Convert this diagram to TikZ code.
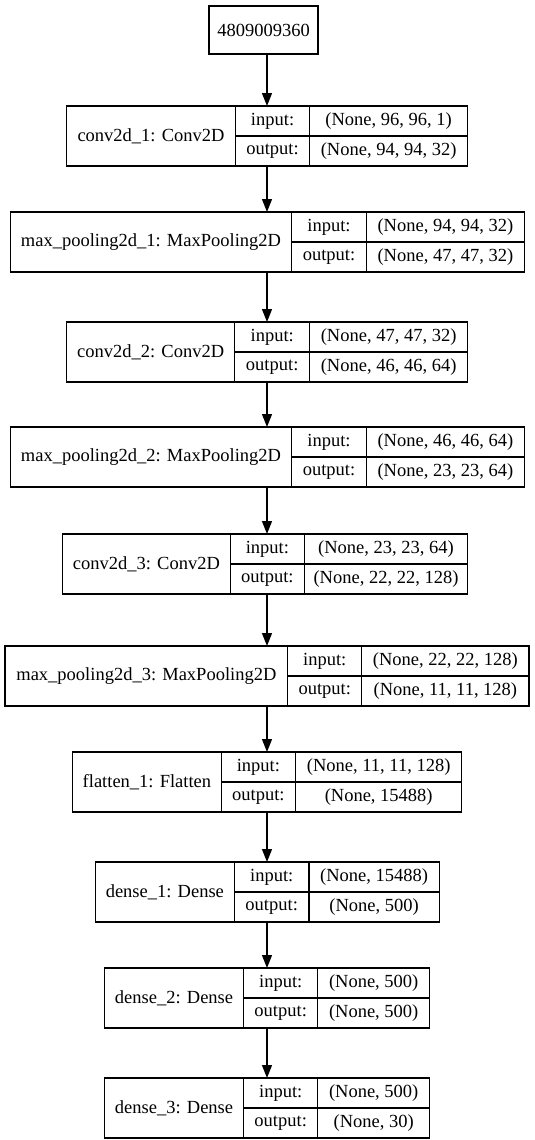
\documentclass[tikz,border=0pt]{standalone}
\usepackage{fontspec}
\setmainfont{Liberation Serif}
\usetikzlibrary{arrows.meta}
\tikzset{
  cell/.style={draw=black, line width=1.3pt, inner sep=0pt, outer sep=0pt, anchor=north west, font=\fontsize{18.5}{22}\selectfont},
  arr/.style={line width=1.3pt, -{Triangle[length=13pt,width=10pt]}},
}
\newcommand\lay[9]{%
  \pgfmathsetmacro\wA{#4-#3}\pgfmathsetmacro\wB{#5-#4}\pgfmathsetmacro\wC{#6-#5}\pgfmathsetmacro\wT{#6-#3}%
  \pgfmathsetmacro\ym{#2+30}%
  \node[cell, minimum width=\wT pt, minimum height=60pt] (#1) at (#3,#2) {};
  \node[cell, minimum width=\wA pt, minimum height=60pt] (#1-name) at (#3,#2) {#7};
  \node[cell, minimum width=\wB pt, minimum height=30pt] (#1-inl) at (#4,#2) {input:};
  \node[cell, minimum width=\wB pt, minimum height=30pt] (#1-outl) at (#4,\ym) {output:};
  \node[cell, minimum width=\wC pt, minimum height=30pt] (#1-inv) at (#5,#2) {#8};
  \node[cell, minimum width=\wC pt, minimum height=30pt] (#1-outv) at (#5,\ym) {#9};
}
\begin{document}
\begin{tikzpicture}[x=1pt,y=-1pt]
\useasboundingbox (0,0) rectangle (535,1140);
\node[cell, minimum width=109pt, minimum height=48pt] (top) at (209,6) {4809009360};
\lay{l1}{106}{66.5}{235.5}{309.6}{467.6}{conv2d\_1: Conv2D}{(None, 96, 96, 1)}{(None, 94, 94, 32)}
\lay{l2}{212}{10.2}{291.8}{366.2}{524.6}{max\_pooling2d\_1: MaxPooling2D}{(None, 94, 94, 32)}{(None, 47, 47, 32)}
\lay{l3}{322}{66.5}{234.8}{309.6}{467.6}{conv2d\_2: Conv2D}{(None, 47, 47, 32)}{(None, 46, 46, 64)}
\lay{l4}{427}{10.2}{291.8}{366.2}{524.6}{max\_pooling2d\_2: MaxPooling2D}{(None, 46, 46, 64)}{(None, 23, 23, 64)}
\lay{l5}{534}{62.5}{230.4}{304.4}{467.6}{conv2d\_3: Conv2D}{(None, 23, 23, 64)}{(None, 22, 22, 128)}
\lay{l6}{646}{5.1}{287.7}{361.8}{529}{max\_pooling2d\_3: MaxPooling2D}{(None, 22, 22, 128)}{(None, 11, 11, 128)}
\lay{l7}{752}{72.7}{221.2}{295.6}{461.8}{flatten\_1: Flatten}{(None, 11, 11, 128)}{(None, 15488)}
\lay{l8}{862}{95.2}{234.5}{308.9}{439.2}{dense\_1: Dense}{(None, 15488)}{(None, 500)}
\lay{l9}{968}{104.4}{243.7}{317.7}{429.7}{dense\_2: Dense}{(None, 500)}{(None, 500)}
\lay{l10}{1078}{104.4}{243.7}{317.7}{429.7}{dense\_3: Dense}{(None, 500)}{(None, 30)}
\coordinate (ax) at (267,0);
\draw[arr] (top.south -| ax) -- (l1.north -| ax);
\draw[arr] (l1.south -| ax) -- (l2.north -| ax);
\draw[arr] (l2.south -| ax) -- (l3.north -| ax);
\draw[arr] (l3.south -| ax) -- (l4.north -| ax);
\draw[arr] (l4.south -| ax) -- (l5.north -| ax);
\draw[arr] (l5.south -| ax) -- (l6.north -| ax);
\draw[arr] (l6.south -| ax) -- (l7.north -| ax);
\draw[arr] (l7.south -| ax) -- (l8.north -| ax);
\draw[arr] (l8.south -| ax) -- (l9.north -| ax);
\draw[arr] (l9.south -| ax) -- (l10.north -| ax);
\end{tikzpicture}
\end{document}
